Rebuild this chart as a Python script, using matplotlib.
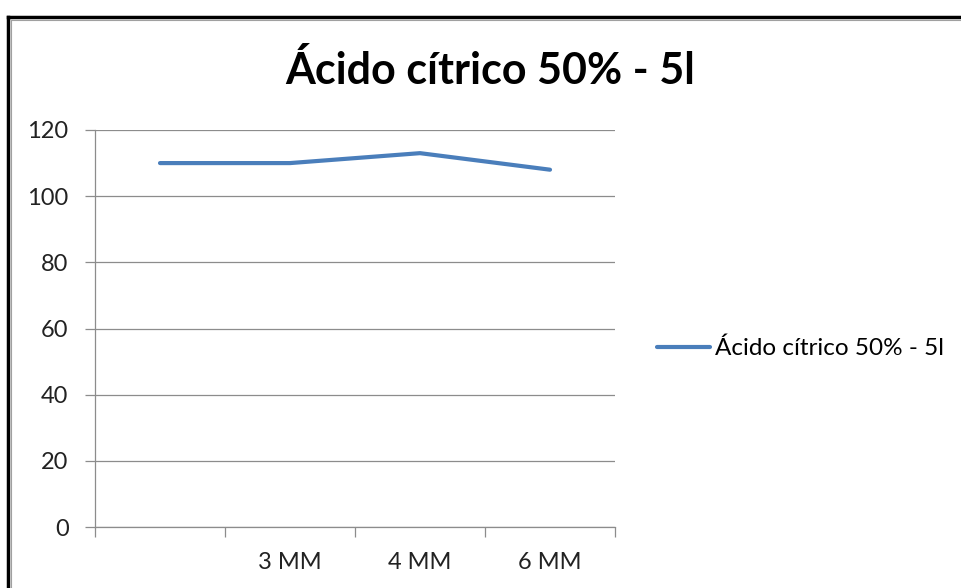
import matplotlib.pyplot as plt
from matplotlib.lines import Line2D

# Dados do gráfico
categorias = ["", "3 MM", "4 MM", "6 MM"]
valores = [110, 110, 113, 108]
serie = "Ácido cítrico 50% - 5l"
titulo = "Ácido cítrico 50% - 5l"

plt.rcParams['font.family'] = ['Lato', 'DejaVu Sans']

fig = plt.figure(figsize=(9.61, 5.88), dpi=100)
W, H = 961, 588

# moldura (borda da janela)
fig.add_artist(Line2D([8 / W, 1], [1 - 17 / H, 1 - 17 / H], color="black", lw=2.5))
fig.add_artist(Line2D([8 / W, 8 / W], [0, 1 - 17 / H], color="black", lw=2.5))
fig.add_artist(Line2D([11 / W, 1], [1 - 20 / H, 1 - 20 / H], color="#a0a0a0", lw=0.8))
fig.add_artist(Line2D([11 / W, 11 / W], [0, 1 - 20 / H], color="#a0a0a0", lw=0.8))

ax = fig.add_axes([95 / W, (H - 527) / H, 520 / W, 397 / H])

x = [i + 0.5 for i in range(len(categorias))]
ax.plot(x, valores, color="#4A7EBB", lw=3, solid_capstyle="round", label=serie)

ax.set_xlim(0, len(categorias))
ax.set_ylim(0, 120)
ax.set_yticks(range(0, 121, 20))
ax.grid(axis="y", color="#8c8c8c", lw=0.9)
ax.set_axisbelow(True)

ax.set_xticks(range(0, len(categorias) + 1))
ax.set_xticklabels([])
ax.set_xticks(x, minor=True)
ax.set_xticklabels(categorias, minor=True)
ax.tick_params(axis="x", which="major", length=7, color="#8c8c8c", width=0.9)
ax.tick_params(axis="x", which="minor", length=0, pad=18, labelsize=17, labelcolor="#222222")
ax.tick_params(axis="y", length=7, color="#8c8c8c", width=0.9, pad=12, labelsize=17, labelcolor="#222222")

for s in ["top", "right"]:
    ax.spines[s].set_visible(False)
for s in ["left", "bottom"]:
    ax.spines[s].set_color("#8c8c8c")
    ax.spines[s].set_linewidth(0.9)

fig.text(490 / W, 1 - 70 / H, titulo, ha="center", va="center", fontsize=31, fontweight="bold")

ax.legend(loc="center left", bbox_to_anchor=((657 - 95) / 520, 0.45),
          frameon=False, fontsize=17.5, handlelength=2.2, handletextpad=0.2,
          borderpad=0, borderaxespad=0)

fig.savefig("out.png", dpi=100, facecolor="white")
